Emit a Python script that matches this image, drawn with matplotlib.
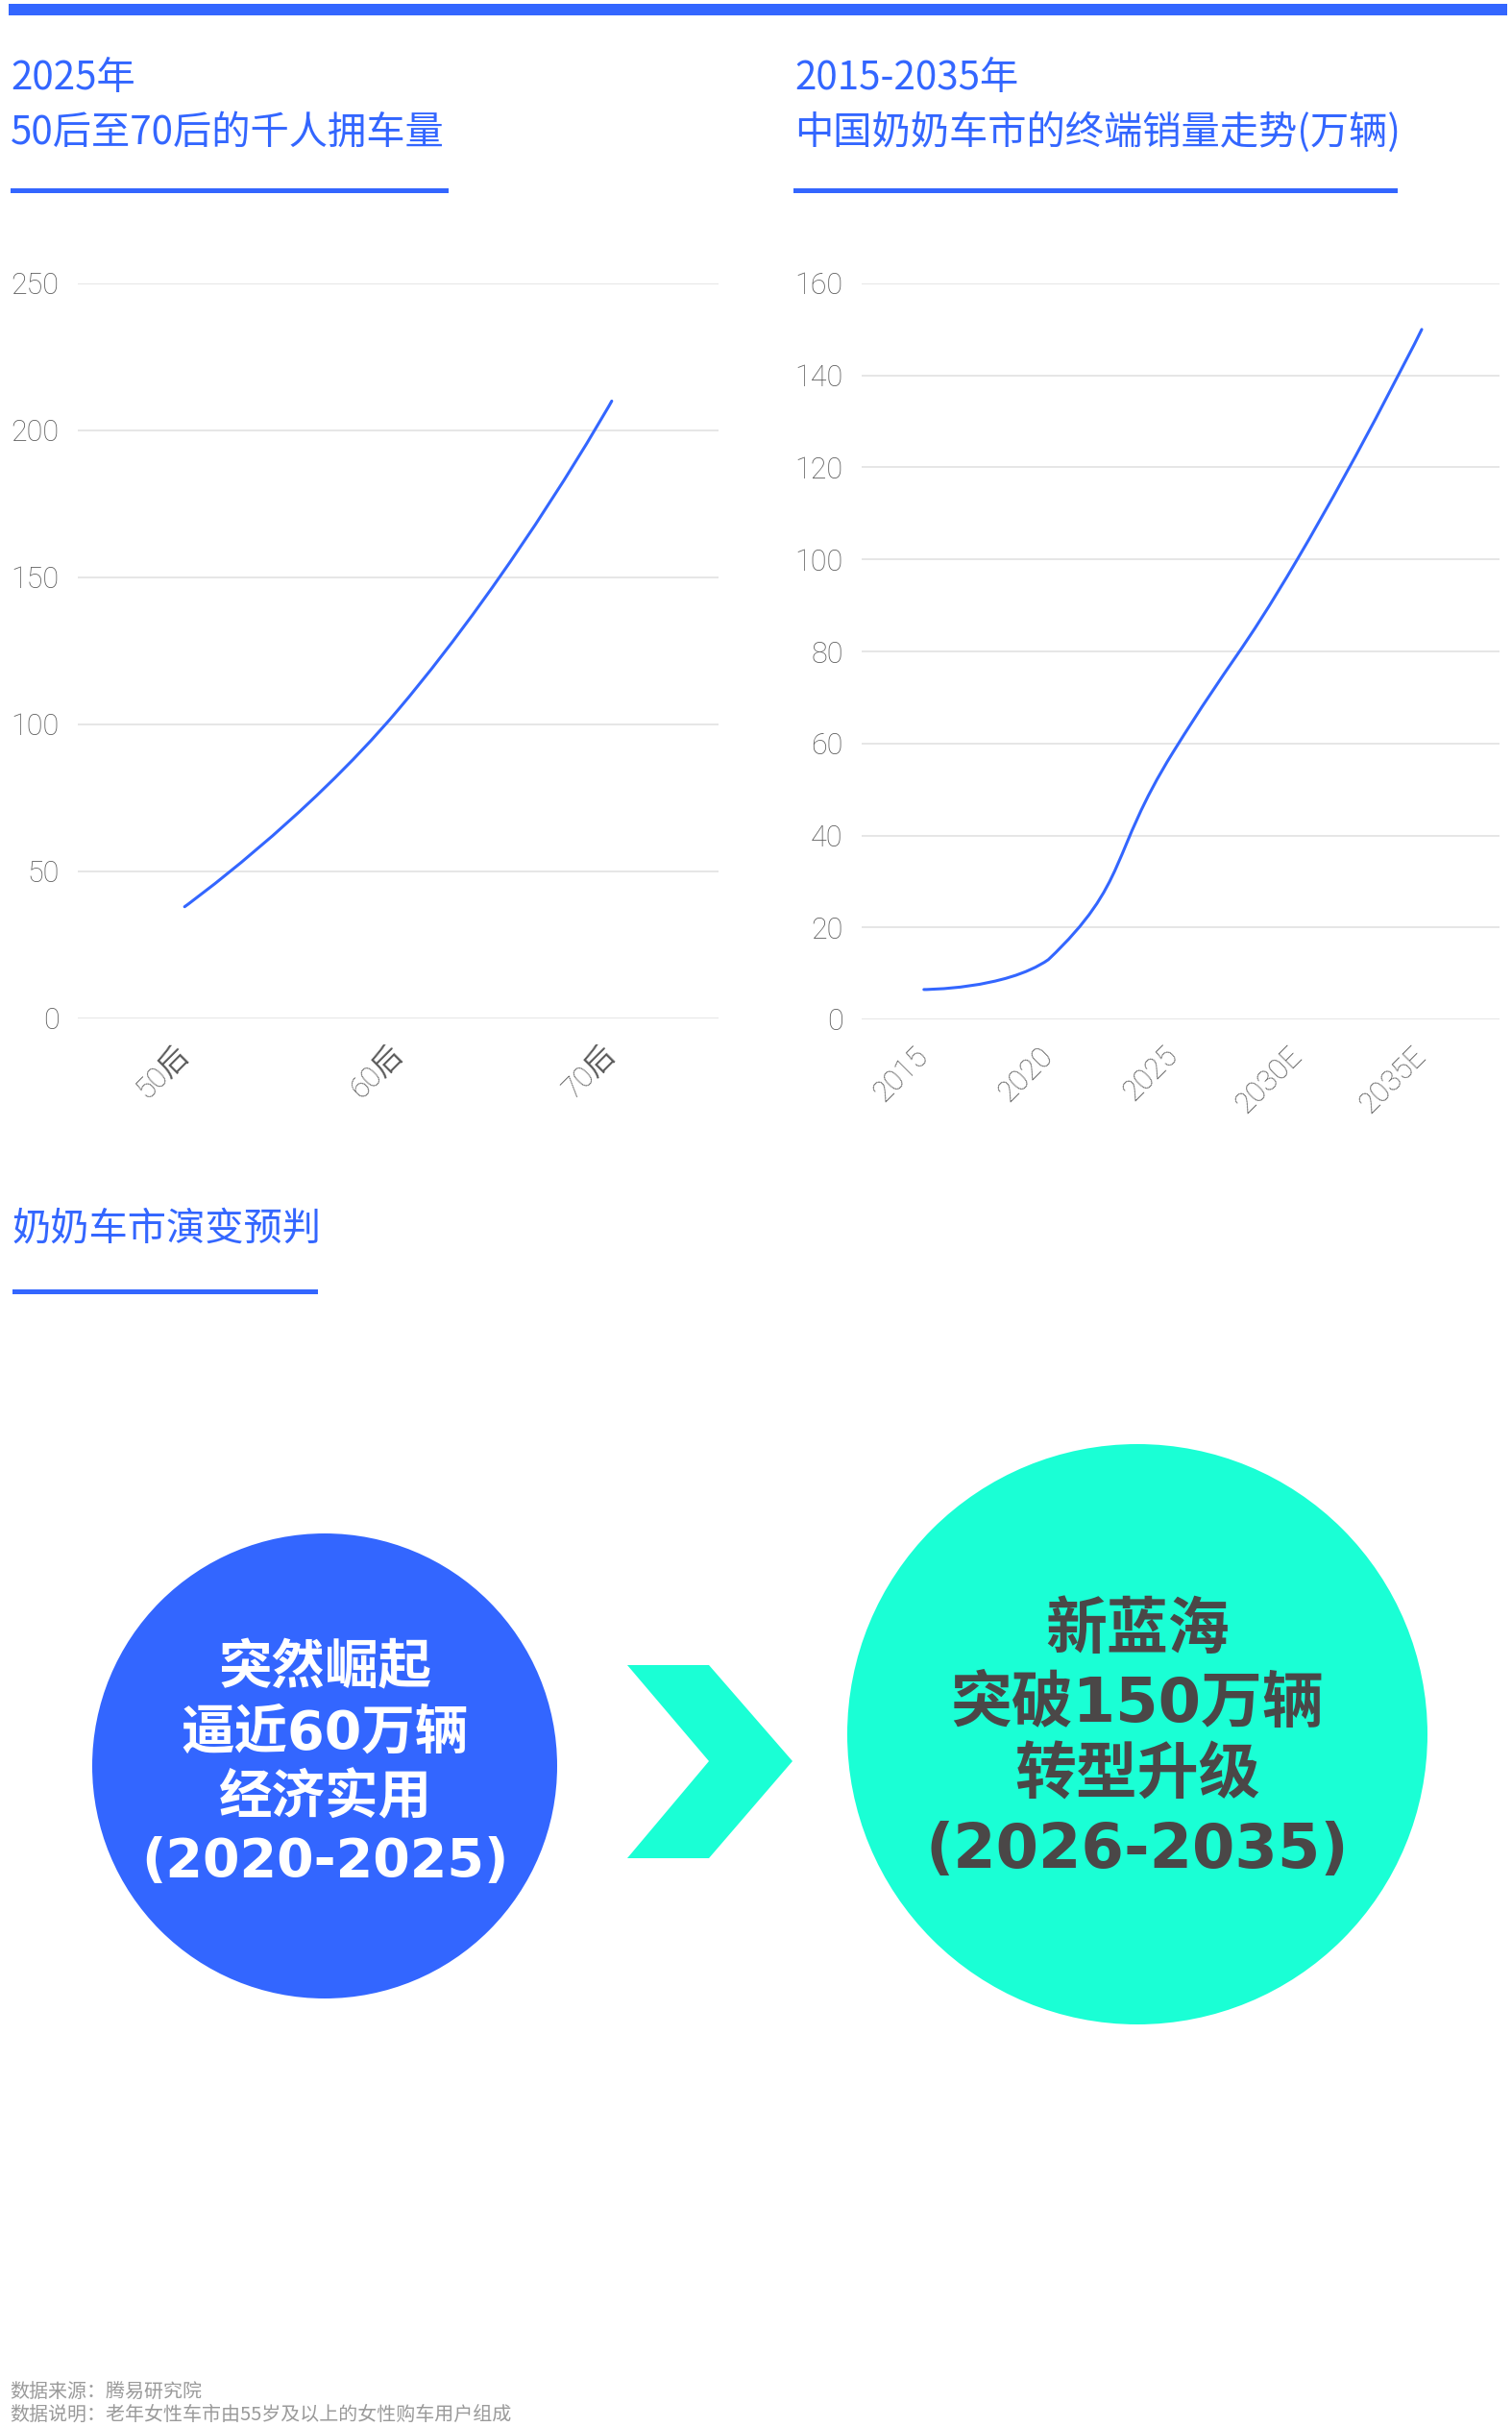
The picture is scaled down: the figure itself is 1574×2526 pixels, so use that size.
import numpy as np
import matplotlib
matplotlib.use('Agg')
import matplotlib.pyplot as plt
import matplotlib.transforms as mtransforms
from matplotlib.path import Path
from matplotlib.patches import PathPatch, Circle, Polygon, Rectangle

plt.rcParams['font.family'] = ['Noto Sans CJK SC', 'DejaVu Sans']

W, H = 1574, 2526

# chart data
gen_labels = ['50后', '60后', '70后']
cars_per_1000 = [38, 105, 210]
left_yticks = [0, 50, 100, 150, 200, 250]

years = ['2015', '2020', '2025', '2030E', '2035E']
sales = [6.5, 13, 58, 100, 150]
right_yticks = [0, 20, 40, 60, 80, 100, 120, 140, 160]

# texts
left_title = ['2025年', '50后至70后的千人拥车量']
right_title = ['2015-2035年', '中国奶奶车市的终端销量走势(万辆)']
bottom_title = '奶奶车市演变预判'
stage1_lines = ['突然崛起', '逼近60万辆', '经济实用', '(2020-2025)']
stage2_lines = ['新蓝海', '突破150万辆', '转型升级', '(2026-2035)']
notes = ['数据来源：腾易研究院', '数据说明：老年女性车市由55岁及以上的女性购车用户组成']

BLUE = '#3366ff'
CYAN = '#1affd5'
GRID = '#e6e6e6'
TICK = '#5a5a5a'
DARK = '#4a4747'
TICK_FONT = ['Roboto', 'Noto Sans CJK SC', 'DejaVu Sans']


def clamp(p, a, b):
    lo = np.minimum(a, b)
    hi = np.maximum(a, b)
    return np.clip(p, lo, hi)


def smooth_path(ax, xs, ys, smooth=0.5):
    # bezier control points in pixel space, like a "smooth" line option
    pts = ax.transData.transform(np.column_stack([xs, ys]))
    n = len(pts)
    cin = pts.copy()
    cout = pts.copy()
    for i in range(1, n - 1):
        prev, cur, nxt = pts[i - 1], pts[i], pts[i + 1]
        v = nxt - prev
        l0 = np.hypot(*(cur - prev))
        l1 = np.hypot(*(nxt - cur))
        r = l1 / (l0 + l1)
        cout[i] = clamp(cur + v * smooth * r, cur, nxt)
        cin[i] = clamp(cur - v * smooth * (1 - r), prev, cur)
    verts = [pts[0]]
    codes = [Path.MOVETO]
    for i in range(n - 1):
        verts += [cout[i], cin[i + 1], pts[i + 1]]
        codes += [Path.CURVE4] * 3
    verts = ax.transData.inverted().transform(np.array(verts))
    return Path(verts, codes)


def line_chart(rect, cats, values, yticks, xmax, xshift):
    ax = fig.add_axes(rect)
    ax.set_xlim(-0.5, xmax)
    ax.set_ylim(yticks[0], yticks[-1])
    ax.set_yticks(yticks)
    ax.set_xticks(range(len(cats)))
    ax.set_xticklabels(cats, rotation=45, ha='right', va='center',
                       rotation_mode='anchor')
    shift = mtransforms.ScaledTranslation(xshift / 100, 0, fig.dpi_scale_trans)
    for lab in ax.get_xticklabels():
        lab.set_transform(lab.get_transform() + shift)
    for lab in ax.get_xticklabels() + ax.get_yticklabels():
        lab.set_family(TICK_FONT)
        lab.set_fontweight('light')
    ax.grid(axis='y', color=GRID, lw=1.4)
    ax.set_axisbelow(True)
    for s in ax.spines.values():
        s.set_visible(False)
    ax.tick_params(length=0, labelsize=22, labelcolor=TICK)
    ax.tick_params(axis='y', pad=14)
    ax.tick_params(axis='x', pad=24)
    p = smooth_path(ax, np.arange(len(values)), values)
    ax.add_patch(PathPatch(p, fill=False, edgecolor=BLUE, lw=2.2,
                           capstyle='round', zorder=3))
    return ax


fig = plt.figure(figsize=(W / 100, H / 100), dpi=100)
fig.patch.set_facecolor('white')

# full-figure layer in pixel units for decorations
bg = fig.add_axes([0, 0, 1, 1])
bg.set_xlim(0, W)
bg.set_ylim(H, 0)
bg.axis('off')

bg.add_patch(Rectangle((9, 4), 1560, 12, color=BLUE, lw=0))
bg.add_patch(Rectangle((11, 196), 456, 4.5, color=BLUE, lw=0))
bg.add_patch(Rectangle((826, 196), 629, 4.5, color=BLUE, lw=0))
bg.add_patch(Rectangle((13, 1342), 318, 4.5, color=BLUE, lw=0))

for i, t in enumerate(left_title):
    bg.text(11, 82 + 56 * i, t, fontsize=29, color=BLUE, va='center',
            fontweight='light')
for i, t in enumerate(right_title):
    bg.text(827, 82 + 56 * i, t, fontsize=29, color=BLUE, va='center',
            fontweight='light')
bg.text(13, 1279, bottom_title, fontsize=29, color=BLUE, va='center',
        fontweight='light')

# stage circles and arrow
bg.add_patch(Circle((338, 1838), 242, color=BLUE, lw=0))
bg.add_patch(Circle((1184, 1805), 302, color=CYAN, lw=0))
bg.add_patch(Polygon([(653, 1733), (738, 1733), (825, 1833), (738, 1934),
                      (653, 1934), (738, 1833)], closed=True, color=CYAN, lw=0))

circle_font = ['DejaVu Sans', 'Noto Sans CJK SC']
for t, y in zip(stage1_lines, [1737, 1805, 1872, 1938]):
    bg.text(338, y, t, fontsize=40, color='white', fontweight='bold',
            ha='center', va='center', family=circle_font)
for t, y in zip(stage2_lines, [1697, 1774, 1849, 1926]):
    bg.text(1184, y, t, fontsize=46, color=DARK, fontweight='bold',
            ha='center', va='center', family=circle_font)

for i, t in enumerate(notes):
    bg.text(10, 2490 + 23 * i, t, fontsize=14.4, color='#9a9a9a', va='center',
            fontweight='light')

line_chart([81 / W, 1 - 1060 / H, 667 / W, 765 / H],
           gen_labels, cars_per_1000, left_yticks, 2.5, 8)
line_chart([897 / W, 1 - 1061 / H, 664 / W, 766 / H],
           years, sales, right_yticks, 4.625, 13)

fig.savefig('out.png', dpi=100, facecolor='white')
